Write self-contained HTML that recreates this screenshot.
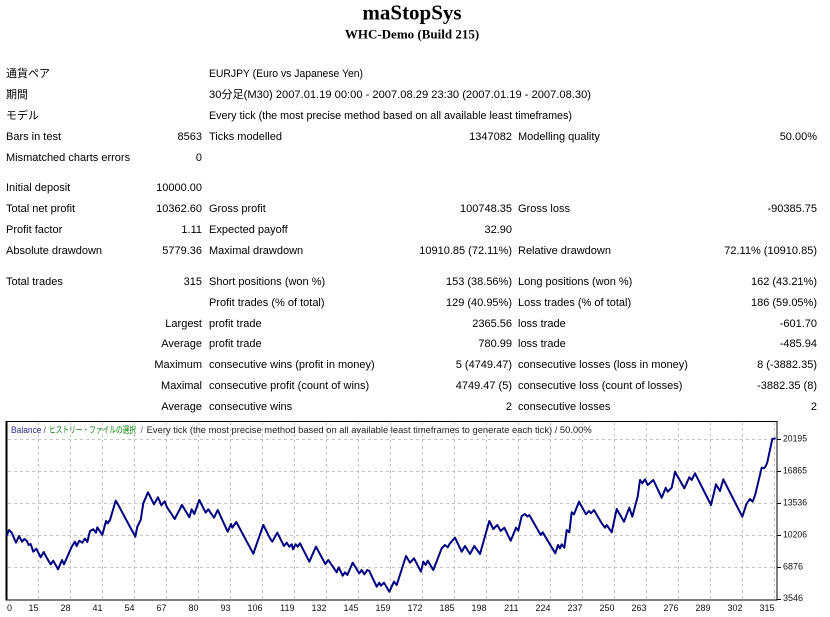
<!DOCTYPE html>
<html><head><meta charset="utf-8"><style>
html,body{margin:0;padding:0;background:#fff;}
svg{display:block;}
.t{font-family:"Liberation Sans","Noto Sans CJK JP",sans-serif;font-size:11px;fill:#000;}
.c{font-family:"Liberation Sans","Noto Sans CJK JP",sans-serif;font-size:9px;fill:#111;}
.e{text-anchor:end;}
</style></head><body>
<svg width="830" height="617" viewBox="0 0 830 617" xmlns="http://www.w3.org/2000/svg">
<rect x="0" y="0" width="830" height="617" fill="#fff"/>
<text x="412" y="19.5" text-anchor="middle" font-family="'Liberation Serif',serif" font-weight="bold" font-size="21">maStopSys</text>
<text x="412" y="38.5" text-anchor="middle" font-family="'Liberation Serif',serif" font-weight="bold" font-size="13">WHC-Demo (Build 215)</text>

<g class="t">
<text x="6" y="77">通貨ペア</text>
<text x="209" y="77" textLength="154" lengthAdjust="spacingAndGlyphs">EURJPY (Euro vs Japanese Yen)</text>
<text x="6" y="98">期間</text>
<text x="209" y="98" textLength="382" lengthAdjust="spacingAndGlyphs">30分足(M30) 2007.01.19 00:00 - 2007.08.29 23:30 (2007.01.19 - 2007.08.30)</text>
<text x="6" y="119">モデル</text>
<text x="209" y="119" textLength="363" lengthAdjust="spacingAndGlyphs">Every tick (the most precise method based on all available least timeframes)</text>

<text x="6" y="140">Bars in test</text>
<text x="202" y="140" class="e">8563</text>
<text x="209" y="140">Ticks modelled</text>
<text x="512" y="140" class="e">1347082</text>
<text x="518" y="140">Modelling quality</text>
<text x="817" y="140" class="e">50.00%</text>

<text x="6" y="161">Mismatched charts errors</text>
<text x="202" y="161" class="e">0</text>

<text x="6" y="191">Initial deposit</text>
<text x="202" y="191" class="e">10000.00</text>

<text x="6" y="212">Total net profit</text>
<text x="202" y="212" class="e">10362.60</text>
<text x="209" y="212">Gross profit</text>
<text x="512" y="212" class="e">100748.35</text>
<text x="518" y="212">Gross loss</text>
<text x="817" y="212" class="e">-90385.75</text>

<text x="6" y="233">Profit factor</text>
<text x="202" y="233" class="e">1.11</text>
<text x="209" y="233">Expected payoff</text>
<text x="512" y="233" class="e">32.90</text>

<text x="6" y="254">Absolute drawdown</text>
<text x="202" y="254" class="e">5779.36</text>
<text x="209" y="254">Maximal drawdown</text>
<text x="512" y="254" class="e">10910.85 (72.11%)</text>
<text x="518" y="254">Relative drawdown</text>
<text x="817" y="254" class="e">72.11% (10910.85)</text>

<text x="6" y="285">Total trades</text>
<text x="202" y="285" class="e">315</text>
<text x="209" y="285">Short positions (won %)</text>
<text x="512" y="285" class="e">153 (38.56%)</text>
<text x="518" y="285">Long positions (won %)</text>
<text x="817" y="285" class="e">162 (43.21%)</text>

<text x="209" y="306">Profit trades (% of total)</text>
<text x="512" y="306" class="e">129 (40.95%)</text>
<text x="518" y="306">Loss trades (% of total)</text>
<text x="817" y="306" class="e">186 (59.05%)</text>

<text x="202" y="327" class="e">Largest</text>
<text x="209" y="327">profit trade</text>
<text x="512" y="327" class="e">2365.56</text>
<text x="518" y="327">loss trade</text>
<text x="817" y="327" class="e">-601.70</text>

<text x="202" y="347" class="e">Average</text>
<text x="209" y="347">profit trade</text>
<text x="512" y="347" class="e">780.99</text>
<text x="518" y="347">loss trade</text>
<text x="817" y="347" class="e">-485.94</text>

<text x="202" y="368" class="e">Maximum</text>
<text x="209" y="368">consecutive wins (profit in money)</text>
<text x="512" y="368" class="e">5 (4749.47)</text>
<text x="518" y="368">consecutive losses (loss in money)</text>
<text x="817" y="368" class="e">8 (-3882.35)</text>

<text x="202" y="389" class="e">Maximal</text>
<text x="209" y="389">consecutive profit (count of wins)</text>
<text x="512" y="389" class="e">4749.47 (5)</text>
<text x="518" y="389">consecutive loss (count of losses)</text>
<text x="817" y="389" class="e">-3882.35 (8)</text>

<text x="202" y="410" class="e">Average</text>
<text x="209" y="410">consecutive wins</text>
<text x="512" y="410" class="e">2</text>
<text x="518" y="410">consecutive losses</text>
<text x="817" y="410" class="e">2</text>
</g>

<!-- chart -->
<rect x="6.5" y="421.5" width="770.5" height="178.5" fill="#fff" stroke="#000" stroke-width="1"/>
<line x1="6.5" y1="421" x2="6.5" y2="600.5" stroke="#000" stroke-width="2"/>
<g stroke="#c4c4c4" stroke-width="1" stroke-dasharray="3,3">
<line x1="8" y1="439.5" x2="776" y2="439.5"/>
<line x1="8" y1="471.5" x2="776" y2="471.5"/>
<line x1="8" y1="503.5" x2="776" y2="503.5"/>
<line x1="8" y1="535.5" x2="776" y2="535.5"/>
<line x1="8" y1="567.5" x2="776" y2="567.5"/>
<line x1="38.5" y1="422" x2="38.5" y2="599"/>
<line x1="70.5" y1="422" x2="70.5" y2="599"/>
<line x1="102.5" y1="422" x2="102.5" y2="599"/>
<line x1="134.5" y1="422" x2="134.5" y2="599"/>
<line x1="166.5" y1="422" x2="166.5" y2="599"/>
<line x1="198.5" y1="422" x2="198.5" y2="599"/>
<line x1="230.5" y1="422" x2="230.5" y2="599"/>
<line x1="262.5" y1="422" x2="262.5" y2="599"/>
<line x1="294.5" y1="422" x2="294.5" y2="599"/>
<line x1="326.5" y1="422" x2="326.5" y2="599"/>
<line x1="358.5" y1="422" x2="358.5" y2="599"/>
<line x1="390.5" y1="422" x2="390.5" y2="599"/>
<line x1="422.5" y1="422" x2="422.5" y2="599"/>
<line x1="454.5" y1="422" x2="454.5" y2="599"/>
<line x1="486.5" y1="422" x2="486.5" y2="599"/>
<line x1="518.5" y1="422" x2="518.5" y2="599"/>
<line x1="550.5" y1="422" x2="550.5" y2="599"/>
<line x1="582.5" y1="422" x2="582.5" y2="599"/>
<line x1="614.5" y1="422" x2="614.5" y2="599"/>
<line x1="646.5" y1="422" x2="646.5" y2="599"/>
<line x1="678.5" y1="422" x2="678.5" y2="599"/>
<line x1="710.5" y1="422" x2="710.5" y2="599"/>
<line x1="742.5" y1="422" x2="742.5" y2="599"/>
<line x1="774.5" y1="422" x2="774.5" y2="599"/>
</g>
<g stroke="#000" stroke-width="1">
<line x1="777" y1="439.5" x2="781" y2="439.5"/>
<line x1="777" y1="471.5" x2="781" y2="471.5"/>
<line x1="777" y1="503.5" x2="781" y2="503.5"/>
<line x1="777" y1="535.5" x2="781" y2="535.5"/>
<line x1="777" y1="567.5" x2="781" y2="567.5"/>
<line x1="777" y1="599.5" x2="781" y2="599.5"/>
</g>
<g class="c">
<text x="783" y="441.5" textLength="24" lengthAdjust="spacingAndGlyphs">20195</text>
<text x="783" y="473.5" textLength="24" lengthAdjust="spacingAndGlyphs">16865</text>
<text x="783" y="505.5" textLength="24" lengthAdjust="spacingAndGlyphs">13536</text>
<text x="783" y="537.5" textLength="24" lengthAdjust="spacingAndGlyphs">10206</text>
<text x="783" y="569.5">6876</text>
<text x="783" y="601">3546</text>
</g>
<g class="c" text-anchor="end">
<text x="12" y="611">0</text>
<text x="38.5" y="611">15</text>
<text x="70.5" y="611">28</text>
<text x="102.5" y="611">41</text>
<text x="134.5" y="611">54</text>
<text x="166.5" y="611">67</text>
<text x="198.5" y="611">80</text>
<text x="230.5" y="611">93</text>
<text x="262.5" y="611">106</text>
<text x="294.5" y="611">119</text>
<text x="326.5" y="611">132</text>
<text x="358.5" y="611">145</text>
<text x="390.5" y="611">159</text>
<text x="422.5" y="611">172</text>
<text x="454.5" y="611">185</text>
<text x="486.5" y="611">198</text>
<text x="518.5" y="611">211</text>
<text x="550.5" y="611">224</text>
<text x="582.5" y="611">237</text>
<text x="614.5" y="611">250</text>
<text x="646.5" y="611">263</text>
<text x="678.5" y="611">276</text>
<text x="710.5" y="611">289</text>
<text x="742.5" y="611">302</text>
<text x="774.5" y="611">315</text>
</g>

<g class="c">
<text x="11" y="433" fill="#2a2a90" textLength="30.5" lengthAdjust="spacingAndGlyphs">Balance</text>
<text x="43.5" y="433" fill="#555">/</text>
<text x="49" y="433" fill="#008000" textLength="87" lengthAdjust="spacingAndGlyphs">ヒストリー・ファイルの選択</text>
<text x="140.5" y="433" fill="#555">/</text>
<text x="146.7" y="433" fill="#222" textLength="445" lengthAdjust="spacingAndGlyphs">Every tick (the most precise method based on all available least timeframes to generate each tick) / 50.00%</text>
</g>

<polyline fill="none" stroke="#000080" stroke-width="2" stroke-linejoin="round" points="
6.7,535.7 9,530 11.7,532.7 16,542.7 19,536 22,541.7 24.3,539 26.7,540.7 28.7,545 30.7,544 33.3,551.7 36.3,548.7 40.7,557.3 43.7,552 47,558.3 50.7,564.3 53.3,560.7 58,569.3 62,560 64,564.3 71.7,546.7 75,541.7 76.7,546 79.3,540.7 82.3,542.7 85,538.7 87.3,542 90,531 93.3,529.3 96,532.7 97.3,527.3 102.3,535 106,521 107.7,523.3 110,520 115.7,500.7 118.3,505 135.3,536.7 137.3,526.7 140.7,520 143.3,503.3 148,492.3 154,504.3 158,497.3 161.3,505.3 164.7,501.3 166.7,506.7 174.7,519 182,505 189.3,517.3 191.7,509.3 194.3,514 199.3,500 205.7,512.7 208.3,509.3 211,513.3 214,517.7 217.7,510 227.7,531.7 231,524 232.3,527.7 236.3,522 253.3,553.7 263.3,525 270,538.3 272.3,541.7 277.3,532.7 284,546 286.7,542.7 289.3,546.7 291.7,544.3 293,549.3 295.7,544.3 297.7,546.7 300,543.3 309.3,561.7 316,546.7 325.3,564 328.3,560 331,564 336.7,572.3 338.7,567.3 342.7,575.7 345,572.3 347.3,575 352.7,562.7 359.3,573.3 361.7,570 364.3,574.3 367.3,570 369.3,571 376.7,586.7 379.3,582.7 381,585.7 384,582.7 389.3,591.7 394,581.7 396.7,585 406,556 410,562.7 414,558.3 421,571.7 423.3,561.7 425.7,565 427.7,560.7 433.3,570 441.7,548.3 445,545 447.7,547.3 450,543.3 455,537.7 461.7,551.7 465,546 470,554 474.3,546 480,554 489.3,521 493.3,529 497.3,525 500.7,531 504.3,527.7 510.7,540.7 516,527.7 518.3,530.7 521.7,516 525,514 527.3,516.5 529.3,515 540.7,535 542.7,532.3 555.3,553.3 558,545 560,548.3 561.7,544.3 564.3,547.7 566.7,530 569.3,532.3 571.7,512.3 574,514.3 579,501.7 586,514.3 589,511 591,513.3 594,510 601.7,523.3 605,527.7 606.7,525 611.7,532.3 616.7,509 624,521.7 629.3,507.7 632.3,516.7 636.3,501.7 637.7,496.7 640,480 642.3,483.3 645,479.3 647.7,485 653.3,480 661.7,497.7 665.7,487.7 667.7,491.7 671.7,487.7 675,471.7 684.3,488.3 689.3,477.3 691.7,480 695,473.3 711,505 716,484.3 720,491 723.3,479.3 742.3,516.7 746.7,503.3 750,499 752.7,501.7 755.3,494.3 761.7,467.7 764,468.3 766,465.7 767.3,462.3 772.3,439 775.7,438.3"/>
</svg>
</body></html>
